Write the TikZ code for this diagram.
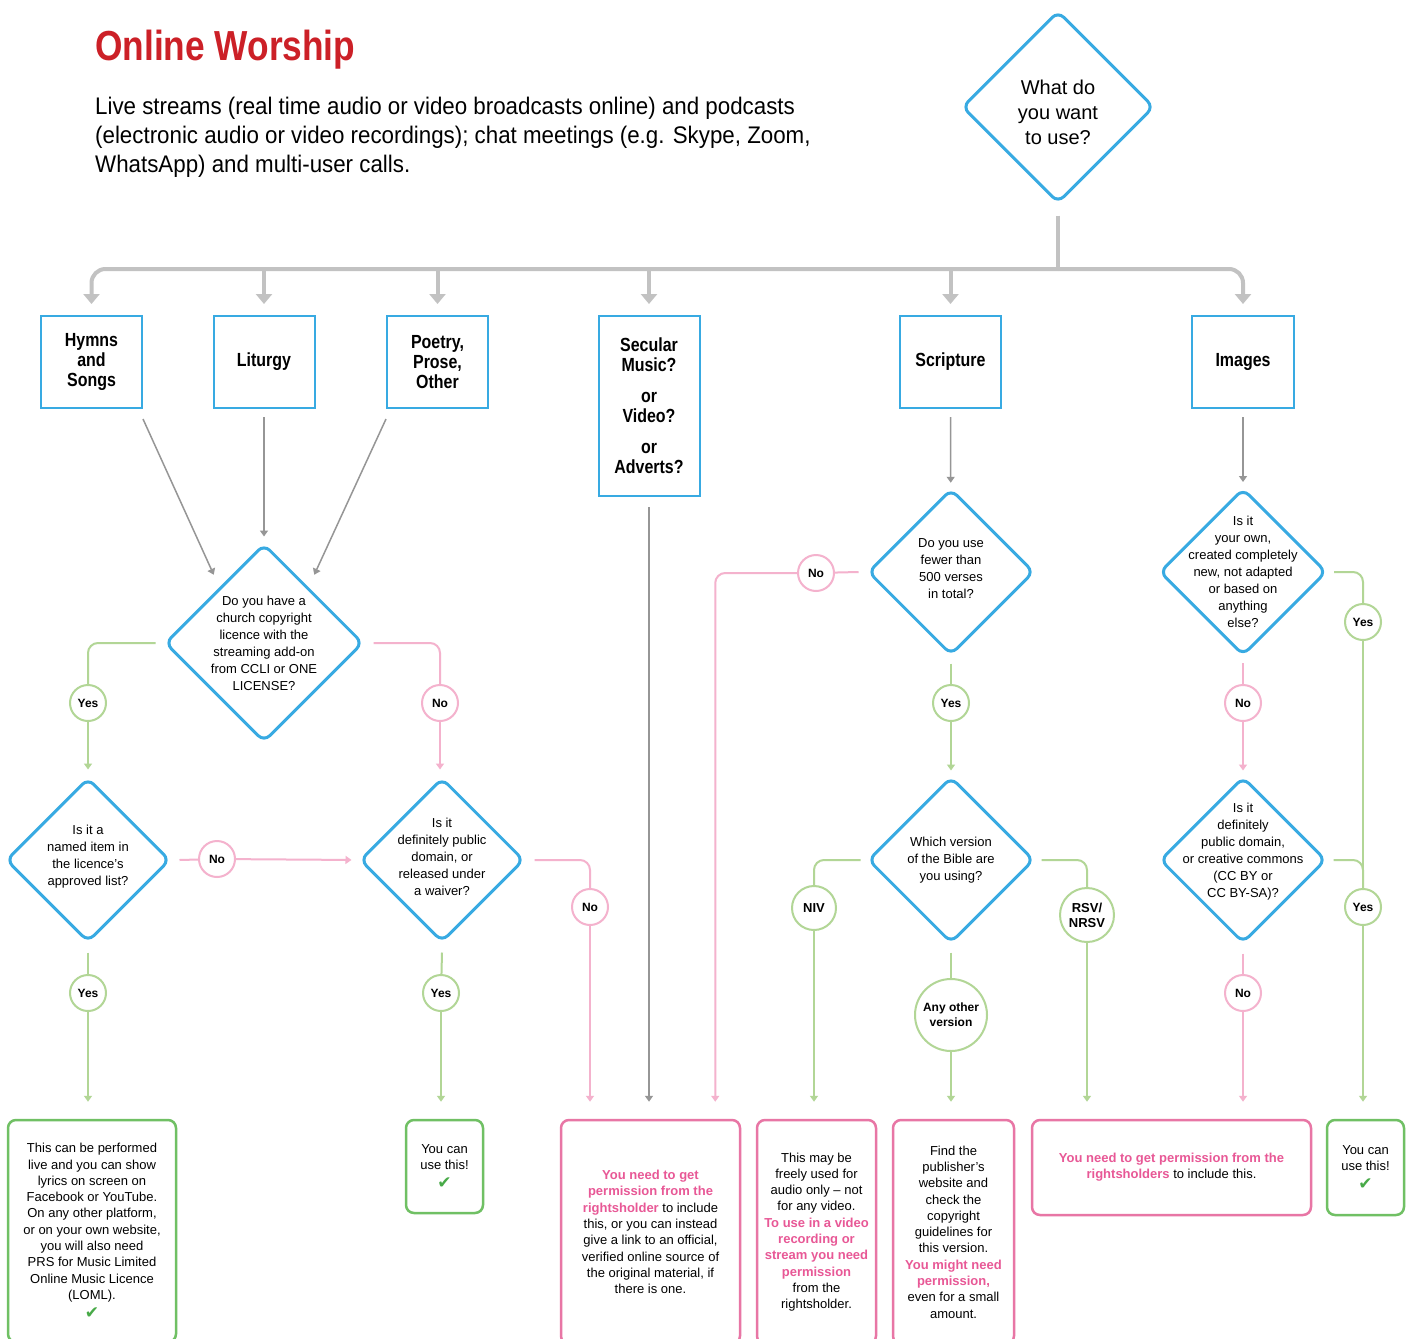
\documentclass[tikz,border=0pt]{standalone}
\usepackage{fontspec}
\setmainfont{Liberation Sans}
\newfontfamily\condfont[FakeStretch=0.84]{Liberation Sans}
\newfontfamily\introfont[FakeStretch=0.93]{Liberation Sans}
\newfontfamily\symfont{DejaVu Sans}
\usetikzlibrary{shapes.geometric, arrows.meta}

\definecolor{dblue}{RGB}{56,170,226}
\definecolor{lgreen}{RGB}{178,214,150}
\definecolor{lpink}{RGB}{244,178,205}
\definecolor{bgreen}{RGB}{112,192,100}
\definecolor{bpink}{RGB}{232,118,165}
\definecolor{pinktext}{RGB}{232,88,150}
\definecolor{tgray}{RGB}{194,194,194}
\definecolor{fgray}{RGB}{150,150,150}
\definecolor{titlered}{RGB}{204,32,39}
\definecolor{tick}{RGB}{72,170,72}

\newcommand{\pk}[1]{\textcolor{pinktext}{\bfseries #1}}
\newcommand{\tickmark}{{\color{tick}\symfont\fontsize{17}{17}\selectfont ✔}}

\begin{document}
\begin{tikzpicture}[x=1pt, y=-1pt,
  >={Triangle[width=8pt,length=6pt]},
  decision/.style={diamond, aspect=1, draw=dblue, line width=3pt, rounded corners=8pt, inner sep=0pt, fill=white},
  dtext/.style={align=center, inner sep=0pt, font=\fontsize{13}{17}\selectfont},
  catbox/.style={rectangle, draw=dblue, line width=2pt, minimum width=101pt, minimum height=92pt, align=center, font=\condfont\bfseries\fontsize{19}{20}\selectfont},
  answer/.style={circle, fill=white, line width=2pt, inner sep=1pt, minimum size=36pt, align=center, font=\bfseries\fontsize{12}{15}\selectfont},
  yescirc/.style={answer, draw=lgreen},
  nocirc/.style={answer, draw=lpink},
  endbox/.style={rectangle, rounded corners=8pt, line width=2.5pt, inner sep=0pt, align=center, font=\fontsize{13}{16.3}\selectfont},
  goodbox/.style={endbox, draw=bgreen},
  badbox/.style={endbox, draw=bpink},
  trunk/.style={draw=tgray, line width=4pt},
  trunkarrow/.style={trunk, -{Triangle[width=16pt,length=10pt]}, shorten >=11pt},
  feed/.style={draw=fgray, line width=1.5pt, ->},
  yesline/.style={draw=lgreen, line width=2pt},
  noline/.style={draw=lpink, line width=2pt}]

\useasboundingbox (0,0) rectangle (1410,1338);
\clip (0,0) rectangle (1410,1338);
\fill[white] (0,0) rectangle (1410,1338);

% heading
\node[anchor=west, inner sep=0pt, text=titlered, font=\condfont\bfseries\fontsize{42}{42}\selectfont] (title) at (95,50) {Online Worship};
\node[anchor=west, inner sep=0pt, align=left, font=\introfont\fontsize{24}{29}\selectfont] (intro) at (95,137)
  {Live streams (real time audio or video broadcasts online) and podcasts\\
   (electronic audio or video recordings); chat meetings (e.g. Skype, Zoom,\\
   WhatsApp) and multi-user calls.};

% questions
\node[decision, minimum size=192pt, label={[dtext, yshift=-5pt, font=\fontsize{20}{25}\selectfont]center:{What do\\you want\\to use?}}] (usewhat) at (1058,107) {};
\node[decision, minimum size=198pt, label={[dtext]center:{Do you have a\\church copyright\\licence with the\\streaming add-on\\from CCLI or ONE\\LICENSE?}}] (licence) at (264,643) {};
\node[decision, minimum size=164pt, label={[dtext, yshift=3pt]center:{Is it a\\named item in\\the licence's\\approved list?}}] (named) at (88,860) {};
\node[decision, minimum size=164pt, label={[dtext, yshift=3pt]center:{Is it\\definitely public\\domain, or\\released under\\a waiver?}}] (pubdom) at (442,860) {};
\node[decision, minimum size=166pt, label={[dtext, yshift=3pt]center:{Do you use\\fewer than\\500 verses\\in total?}}] (verses) at (951,572) {};
\node[decision, minimum size=166pt, label={[dtext]center:{Which version\\of the Bible are\\you using?}}] (version) at (951,860) {};
\node[decision, minimum size=167pt, label={[dtext]center:{Is it\\your own,\\created completely\\new, not adapted\\or based on\\anything\\else?}}] (ownwork) at (1243,572) {};
\node[decision, minimum size=166pt, label={[dtext, yshift=8pt]center:{Is it\\definitely\\public domain,\\or creative commons\\(CC BY or\\CC BY-SA)?}}] (ccpd) at (1243,860) {};

% categories
\node[catbox] (hymns) at (91.5,362) {Hymns\\and\\Songs};
\node[catbox] (liturgy) at (264,362) {Liturgy};
\node[catbox] (poetry) at (437.5,362) {Poetry,\\Prose,\\Other};
\node[catbox, minimum height=180pt] (secular) at (649,406) {Secular\\Music?\\[11pt]or\\Video?\\[11pt]or\\Adverts?};
\node[catbox] (scripture) at (950.5,362) {Scripture};
\node[catbox, minimum width=102pt] (images) at (1243,362) {Images};

% answers
\node[yescirc] (y1) at (88,703) {Yes};
\node[nocirc] (n1) at (440,703) {No};
\node[nocirc] (n2) at (217,859) {No};
\node[yescirc] (y2) at (88,993) {Yes};
\node[yescirc] (y3) at (441,993) {Yes};
\node[nocirc] (n3) at (590,907) {No};
\node[nocirc] (n4) at (816,573) {No};
\node[yescirc] (y4) at (951,703) {Yes};
\node[yescirc, minimum size=44pt, font=\bfseries\fontsize{13}{15}\selectfont] (niv) at (814,908) {NIV};
\node[yescirc, minimum size=54pt, font=\bfseries\fontsize{13}{15}\selectfont] (rsv) at (1087,915) {RSV/\\NRSV};
\node[yescirc, minimum size=72pt] (anyv) at (951,1015) {Any other\\version};
\node[yescirc] (y5) at (1363,622) {Yes};
\node[nocirc] (n5) at (1243,703) {No};
\node[yescirc] (y6) at (1363,907) {Yes};
\node[nocirc] (n6) at (1243,993) {No};

% outcomes
\node[goodbox, minimum width=168pt, minimum height=222pt] (lomlbox) at (92,1231)
  {This can be performed\\live and you can show\\lyrics on screen on\\Facebook or YouTube.\\On any other platform,\\or on your own website,\\you will also need\\PRS for Music Limited\\Online Music Licence\\(LOML).\\[3pt]\tickmark};
\node[goodbox, minimum width=77pt, minimum height=93pt] (youcan1) at (444.5,1166.5) {You can\\use this!\\[2pt]\tickmark};
\node[badbox, minimum width=179pt, minimum height=224pt] (permbox) at (650.5,1232)
  {\pk{You need to get}\\\pk{permission from the}\\\pk{rightsholder} to include\\this, or you can instead\\give a link to an official,\\verified online source of\\the original material, if\\there is one.};
\node[badbox, minimum width=119pt, minimum height=224pt] (audiobox) at (816.5,1232)
  {This may be\\freely used for\\audio only – not\\for any video.\\\pk{To use in a video}\\\pk{recording or}\\\pk{stream you need}\\\pk{permission}\\from the\\rightsholder.};
\node[badbox, minimum width=121pt, minimum height=224pt] (findbox) at (953.5,1232)
  {Find the\\publisher's\\website and\\check the\\copyright\\guidelines for\\this version.\\\pk{You might need}\\\pk{permission,}\\even for a small\\amount.};
\node[badbox, minimum width=279pt, minimum height=95pt] (rightsbox) at (1171.5,1167.5)
  {\pk{You need to get permission from the}\\\pk{rightsholders} to include this.};
\node[goodbox, minimum width=77pt, minimum height=95pt] (youcan2) at (1365.5,1167.5) {You can\\use this!\\[2pt]\tickmark};

% main trunk
\coordinate (bus) at (1058,269);
\draw[trunk] ([yshift=-11pt]usewhat.south) -- (bus);
\draw[trunkarrow, rounded corners=14pt] (bus) -| (hymns.north);
\draw[trunkarrow, rounded corners=14pt] (bus) -| (images.north);
\foreach \cat in {liturgy, poetry, secular, scripture}
  \draw[trunkarrow] (\cat.north |- bus) -- (\cat.north);

% into the licence question
\draw[feed] ([yshift=-10pt]hymns.south east) -- ([yshift=18pt]licence.north west);
\draw[feed, shorten >=6pt] ([yshift=-8pt]liturgy.south) -- (licence.north);
\draw[feed] ([yshift=-10pt]poetry.south west) -- ([yshift=18pt]licence.north east);

% licence
\draw[yesline, rounded corners=10pt] ([xshift=-8pt]licence.west) -| (y1);
\draw[yesline, ->, shorten >=7pt] (y1) -- (named);
\draw[noline, rounded corners=10pt] ([xshift=9pt]licence.east) -| (n1);
\draw[noline, ->, shorten >=7pt] (n1) -- (n1 |- pubdom.north);

% named item
\draw[noline] ([xshift=8pt]named.east) -- (n2);
\draw[noline, ->, shorten >=7pt] (n2) -- (pubdom.west);
\draw[yesline] ([yshift=-9pt]named.south) -- (y2);
\draw[yesline, ->, shorten >=17pt] (y2) -- (y2 |- lomlbox.north);

% public domain
\draw[yesline] ([yshift=-9pt]pubdom.south) -- (y3);
\draw[yesline, ->, shorten >=17pt] (y3) -- (y3 |- youcan1.north);
\draw[noline, rounded corners=10pt] ([xshift=9pt]pubdom.east) -| (n3);
\draw[noline, ->, shorten >=17pt] (n3) -- (n3 |- permbox.north);

% secular
\draw[feed, shorten >=17pt] ([yshift=-10pt]secular.south) -- (secular.south |- permbox.north);

% scripture
\draw[feed, shorten >=5pt] ([yshift=-8pt]scripture.south) -- (verses);
\draw[noline] ([xshift=-8pt]verses.west) -- (n4);
\draw[noline, ->, rounded corners=10pt, shorten >=17pt] (n4) -| ([xshift=-26pt]permbox.north east);
\draw[yesline] ([yshift=-7pt]verses.south) -- (y4);
\draw[yesline, ->, shorten >=5pt] (y4) -- (version);
\draw[yesline, rounded corners=10pt] ([xshift=-6pt]version.west) -| (niv);
\draw[yesline, ->, shorten >=17pt] (niv) -- (niv |- audiobox.north);
\draw[yesline, rounded corners=10pt] ([xshift=6pt]version.east) -| (rsv);
\draw[yesline, ->, shorten >=17pt] (rsv) -- (rsv |- rightsbox.north);
\draw[yesline] ([yshift=-8pt]version.south) -- (anyv);
\draw[yesline, ->, shorten >=17pt] (anyv) -- (anyv |- findbox.north);

% images
\draw[feed, shorten >=5pt] ([yshift=-8pt]images.south) -- (ownwork);
\draw[yesline, rounded corners=10pt] ([xshift=6pt]ownwork.east) -| (y5);
\draw[yesline] (y5) -- (y6);
\draw[noline] ([yshift=-6pt]ownwork.south) -- (n5);
\draw[noline, ->, shorten >=5pt] (n5) -- (ccpd);
\draw[yesline, rounded corners=10pt] ([xshift=6pt]ccpd.east) -| (y6);
\draw[yesline, ->, shorten >=17pt] (y6) -- (y6 |- youcan2.north);
\draw[noline] ([yshift=-9pt]ccpd.south) -- (n6);
\draw[noline, ->, shorten >=17pt] (n6) -- (n6 |- rightsbox.north);
\end{tikzpicture}
\end{document}
